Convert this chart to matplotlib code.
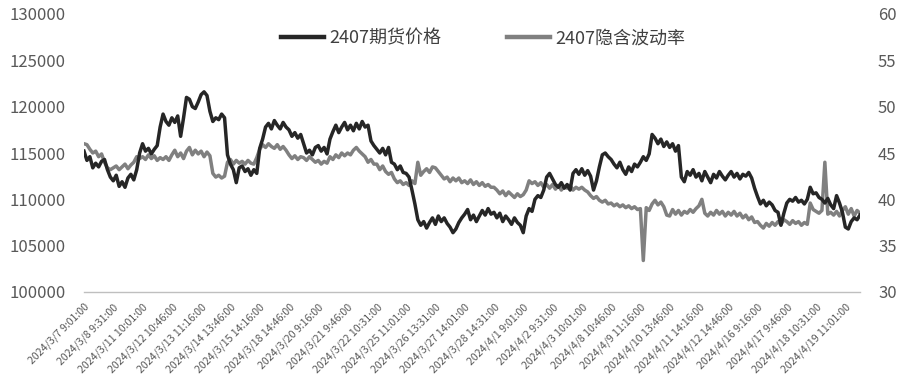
import matplotlib
matplotlib.use("Agg")
import matplotlib.pyplot as plt
import numpy as np

tick_labels = [
    "2024/3/7 9:01:00", "2024/3/8 9:31:00", "2024/3/11 10:01:00", "2024/3/12 10:46:00",
    "2024/3/13 11:16:00", "2024/3/14 13:46:00", "2024/3/15 14:16:00", "2024/3/18 14:46:00",
    "2024/3/20 9:16:00", "2024/3/21 9:46:00", "2024/3/22 10:31:00", "2024/3/25 11:01:00",
    "2024/3/26 13:31:00", "2024/3/27 14:01:00", "2024/3/28 14:31:00", "2024/4/1 9:01:00",
    "2024/4/2 9:31:00", "2024/4/3 10:01:00", "2024/4/8 10:46:00", "2024/4/9 11:16:00",
    "2024/4/10 13:46:00", "2024/4/11 14:16:00", "2024/4/12 14:46:00", "2024/4/16 9:16:00",
    "2024/4/17 9:46:00", "2024/4/18 10:31:00", "2024/4/19 11:01:00",
]

# futures price (thousands), 10 samples per labelled interval
price_k = [
    115.2, 114.2, 114.6, 113.4, 113.9, 113.5, 114.1, 114.3, 113.2, 112.4,
    112.0, 112.6, 111.4, 111.9, 111.3, 112.3, 112.7, 112.1, 113.2, 115.0,
    116.0, 115.2, 115.5, 114.9, 115.4, 115.8, 117.8, 119.2, 118.4, 118.0,
    118.8, 118.3, 119.0, 116.8, 118.8, 121.0, 120.8, 120.0, 119.8, 120.5,
    121.3, 121.6, 121.2, 119.5, 118.4, 118.8, 118.6, 119.2, 118.8, 114.8,
    113.8, 113.2, 111.8, 113.4, 113.6, 113.0, 113.3, 112.6, 113.2, 112.8,
    115.5, 116.5, 117.8, 118.2, 117.6, 118.5, 118.0, 117.6, 118.3, 117.8,
    117.5, 116.8, 117.2, 116.6, 117.0, 116.0, 115.0, 115.3, 114.8, 115.6,
    115.8, 115.2, 115.6, 114.9, 116.5, 117.3, 118.0, 117.2, 117.8, 118.3,
    117.5, 118.0, 117.4, 118.2, 117.6, 118.4, 117.8, 118.0, 116.3, 115.8,
    115.4, 115.0, 115.5, 114.8, 115.6, 114.0, 113.8, 113.2, 113.6, 112.9,
    112.8, 112.4, 111.0, 109.5, 107.8, 107.2, 107.6, 106.9, 107.5, 108.0,
    107.3, 108.2, 107.6, 108.0, 107.4, 107.0, 106.4, 106.8, 107.5, 108.0,
    108.4, 108.9, 107.8, 108.3, 107.6, 108.2, 108.8, 108.3, 109.0, 108.4,
    108.6, 108.0, 108.5, 107.6, 108.2, 107.8, 107.3, 108.0, 107.5, 107.2,
    106.4, 108.2, 109.0, 108.7, 110.0, 110.4, 110.2, 111.0, 112.4, 112.8,
    112.2, 111.6, 111.3, 111.8, 111.2, 111.6, 111.0, 112.8, 113.2, 112.7,
    113.3, 112.6, 113.1, 112.5, 111.0, 112.0, 113.5, 114.8, 115.0, 114.6,
    114.3, 113.8, 113.4, 114.0, 113.2, 112.7, 113.5, 113.0, 113.8, 113.5,
    114.0, 114.6, 114.2, 114.9, 117.0, 116.6, 116.0, 116.5, 115.7, 116.2,
    115.6, 116.0, 115.2, 115.8, 112.4, 111.9, 113.0, 112.6, 113.2, 112.4,
    112.8, 112.0, 113.0, 112.4, 111.8, 112.7, 112.3, 113.0, 112.5, 112.1,
    112.6, 113.0, 112.4, 112.8, 112.2, 112.7, 112.5, 112.9, 112.3, 111.2,
    110.3, 109.5, 109.9, 109.3, 109.7, 109.4, 108.8, 108.6, 107.2, 108.5,
    109.6, 110.0, 109.8, 110.2, 109.7, 109.9, 109.5, 110.0, 111.3, 110.6,
    110.7, 110.2, 110.0, 109.6, 110.1, 109.4, 109.0, 110.4, 109.6, 108.6,
    107.0, 106.8, 107.6, 108.0, 107.8, 108.3,
]

implied_vol = [
    46.0, 45.9, 45.4, 45.0, 45.2, 44.6, 44.9, 44.0, 43.4, 43.2,
    43.4, 43.6, 43.2, 43.5, 43.8, 43.3, 43.7, 44.0, 44.6, 44.4,
    44.6, 44.3, 44.8, 44.4, 44.7, 44.2, 44.5, 44.3, 44.6, 44.2,
    44.8, 45.3, 44.6, 45.0, 44.4, 45.2, 45.6, 44.8, 45.3, 44.9,
    45.2, 44.6, 45.1, 44.7, 42.8, 42.4, 42.6, 42.3, 42.5, 44.0,
    44.3, 43.8, 44.2, 43.9, 44.1, 43.8, 44.2, 43.9, 43.8, 44.5,
    45.4, 45.9, 45.6, 46.0, 45.7, 45.5, 45.9, 45.4, 45.7, 45.3,
    44.8, 44.4, 44.7, 44.3, 44.6, 44.5, 44.2, 44.6, 44.3, 44.0,
    44.2, 43.8, 44.1, 43.9, 44.6, 44.3, 44.8, 44.5, 45.0, 44.7,
    45.0, 44.8, 45.3, 45.6, 45.2, 44.9, 44.6, 44.0, 44.3, 43.8,
    43.8, 43.2, 43.6, 43.0, 42.7, 42.9, 42.2, 41.8, 42.0, 41.6,
    41.8, 41.5, 42.0, 41.7, 44.0, 42.6, 43.0, 43.3, 42.9, 43.5,
    43.4, 43.0, 42.6, 42.2, 42.4, 41.9, 42.3, 42.0, 42.3, 41.8,
    42.0, 41.7, 42.1, 41.6, 41.9, 41.5, 41.8, 41.4, 41.6, 41.3,
    41.3, 41.0, 40.6, 40.9, 40.4, 40.8, 40.5, 40.2, 40.6, 40.3,
    40.5, 41.0, 42.0, 41.7, 41.9, 41.5, 41.8, 41.3, 41.6, 41.2,
    41.6, 41.1, 41.5, 41.0, 41.4, 41.2, 41.5, 41.0, 41.3, 41.1,
    41.3, 41.0, 40.8, 40.4, 40.1, 40.3, 39.9, 39.7, 39.9, 39.5,
    39.6, 39.3, 39.5, 39.2, 39.4, 39.1, 39.3, 39.0, 39.2, 38.9,
    39.0, 33.4, 39.1, 38.8, 39.5, 39.9, 39.4, 39.7, 39.2, 38.3,
    38.2, 38.9, 38.4, 38.8, 38.3, 38.7, 38.5, 38.9, 38.6, 39.0,
    39.3, 40.0, 38.5, 38.2, 38.6, 38.3, 38.8, 38.4, 38.7, 38.2,
    38.6, 38.3, 38.7, 38.2, 38.5, 38.0, 38.3, 37.8, 38.1, 37.5,
    37.6, 37.2, 36.9, 37.4, 37.1, 37.5, 37.2, 37.6, 37.3, 37.8,
    37.6, 37.3, 37.7, 37.4, 37.6, 37.2, 37.5, 37.3, 39.6, 38.9,
    38.7, 38.5, 38.8, 44.0, 38.4, 38.6, 38.3, 38.7, 38.2, 38.8,
    39.2, 38.4, 39.0, 38.2, 38.8, 38.5,
]

series_names = ["2407期货价格", "2407隐含波动率"]
points_per_label = 10

plt.rcParams['font.family'] = ['Noto Sans CJK SC', 'DejaVu Sans']

price = np.array(price_k) * 1000
vol = np.array(implied_vol)
x = np.arange(len(price))

fig = plt.figure(figsize=(9, 3.89), dpi=100)
ax = fig.add_axes([84/900, 1-292/389, (860-84)/900, (292-14)/389])
ax2 = ax.twinx()

l1, = ax.plot(x, price, color="#262626", lw=2.5, solid_joinstyle="round")
l2, = ax2.plot(x, vol, color="#808080", lw=2.5, solid_joinstyle="round")
ax.set_zorder(ax2.get_zorder() + 1)
ax.patch.set_visible(False)

ax.set_ylim(100000, 130000)
ax.set_yticks(np.arange(100000, 130001, 5000))
ax2.set_ylim(30, 60)
ax2.set_yticks(np.arange(30, 61, 5))
ax.set_xlim(0, len(price) - 1)

ticks = np.arange(len(tick_labels)) * points_per_label
ax.set_xticks(ticks)
ax.set_xticklabels(tick_labels, rotation=45, ha="right", rotation_mode="anchor",
                   fontsize=7.6, color="#595959")

for a in (ax, ax2):
    for s in a.spines.values():
        s.set_visible(False)
    a.tick_params(length=0)
ax.spines["bottom"].set_visible(True)
ax.spines["bottom"].set_color("#bfbfbf")
ax.spines["bottom"].set_linewidth(1.0)

ax.tick_params(axis="y", labelsize=12, labelcolor="#595959", pad=13)
ax2.tick_params(axis="y", labelsize=12, labelcolor="#595959", pad=13)
ax.tick_params(axis="x", pad=7)

leg = fig.legend([l1, l2], series_names, loc="center", bbox_to_anchor=(0.537, 0.902),
                 ncol=2, frameon=False, fontsize=13, handlelength=2.4, handletextpad=0.3,
                 columnspacing=3.6, labelcolor="#404040")
for h in leg.legend_handles:
    h.set_linewidth(3.2)

fig.savefig("out.png", dpi=100)
